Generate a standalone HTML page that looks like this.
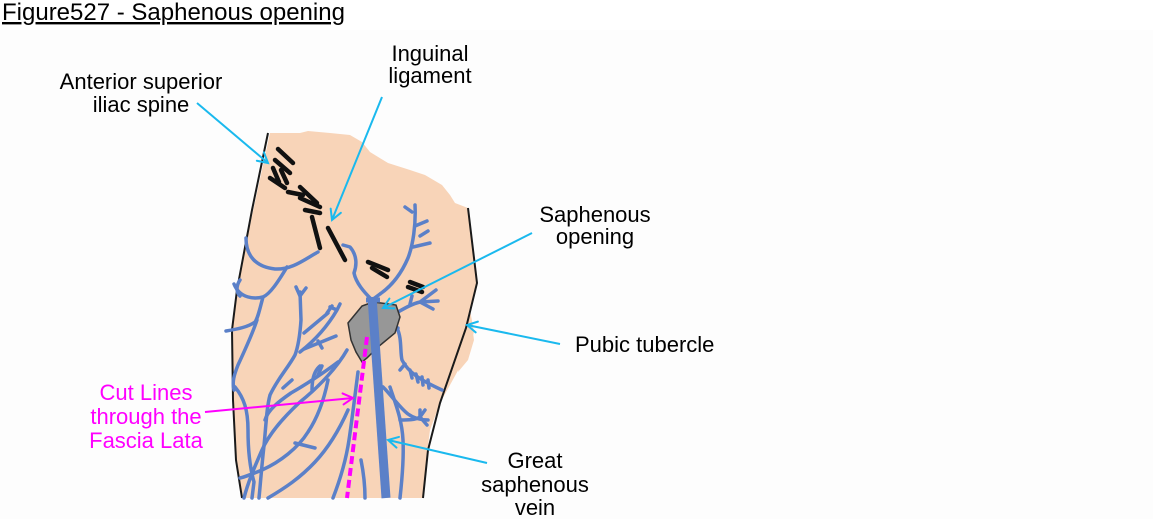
<!DOCTYPE html>
<html>
<head>
<meta charset="utf-8">
<style>
  html,body{margin:0;padding:0;background:#ffffff;}
  body{width:1153px;height:519px;overflow:hidden;}
  svg{display:block;}
  text{font-family:"Liberation Sans", Arial, sans-serif;}
</style>
</head>
<body>
<svg width="1153" height="519" viewBox="0 0 1153 519" xmlns="http://www.w3.org/2000/svg">
  <defs>
    <marker id="ac" markerUnits="userSpaceOnUse" markerWidth="14" markerHeight="14" viewBox="0 0 14 14" refX="12" refY="7" orient="auto">
      <path d="M2,1.5 L12,7 L2,12.5" fill="none" stroke="#1ab9ee" stroke-width="2" stroke-linecap="round"/>
    </marker>
    <marker id="am" markerUnits="userSpaceOnUse" markerWidth="14" markerHeight="14" viewBox="0 0 14 14" refX="12" refY="7" orient="auto">
      <path d="M2,1.5 L12,7 L2,12.5" fill="none" stroke="#ff00ff" stroke-width="2" stroke-linecap="round"/>
    </marker>
  </defs>

  <rect x="0" y="30" width="1153" height="489" fill="#fdfdfd"/>

  <!-- Title -->
  <text x="2" y="20" font-size="24" fill="#000" text-decoration="underline">Figure527 - Saphenous opening</text>

  <!-- Leg skin -->
  <path d="M270,133 L300,133 L308,131 L330,133 L350,135 L362,142 L370,152 L388,163 L410,170 L425,175 L442,185 L450,195 L455,203 L468,208 L477,283 L470,310 L474,332 L466,356 L450,385 L440,403 L430,430 L427,453 L423,498 L242,498 L236,453 L233,400 L233,327 L237,285 Z" fill="#f8d4b8"/>
  <path d="M466,328 L472,326 L474,340 L468,360 L458,372 Z" fill="#f8d4b8"/>

  <!-- Leg outlines -->
  <path d="M268,133 L252,210 L237,290 L232,330 L233,400 L236,460 L242,498" fill="none" stroke="#1a1a1a" stroke-width="2"/>
  <path d="M468,208 L477,283 L466,328 L440,403 L428,450 L423,498" fill="none" stroke="#1a1a1a" stroke-width="2"/>

  <!-- Veins -->
  <g fill="none" stroke="#5b80c8" stroke-width="3.5" stroke-linecap="round" stroke-linejoin="round">
    <path d="M246,238 C246,256 256,267 275,269 C292,270 305,259 318,252"/>
    <path d="M287,267 C278,282 270,294 263,297 C255,299 240,299 234,284"/>
    <path d="M263,297 C260,308 258,318 255,322 C248,327 238,329 226,331"/>
    <path d="M257,320 C252,335 245,350 238,365 C234,375 232,382 234,390"/>
    <path d="M300,292 L301,320 C300,335 298,347 295,355 C288,368 278,378 270,395 C266,410 266,430 263,455 C261,475 260,488 259,498"/>
    <path d="M296,287 L300,296 L306,288"/>
    <path d="M304,333 L328,313 M304,349 L336,336 M327,313 L332,306 M318,341 L322,348"/>
    <path d="M337,310 C330,322 318,338 300,352 M330,307 L337,310 L340,304"/>
    <path d="M347,350 C338,366 320,386 300,402 C285,416 270,432 262,450 C255,466 248,482 244,498"/>
    <path d="M328,380 C324,400 318,417 308,432 C298,448 280,462 262,470 C252,474 245,477 240,478"/>
    <path d="M235,387 C244,398 248,410 248,430 C248,450 250,468 254,482 L252,498"/>
    <path d="M268,498 C285,488 300,478 315,462 C330,446 340,428 348,410"/>
    <path d="M358,372 C355,395 352,420 349,440 C346,460 340,480 333,498"/>
    <path d="M361,460 C364,475 365,488 365,498"/>
    <path d="M295,443 L315,448"/>
    <path d="M338,362 C325,372 305,385 291,393 C278,402 268,410 265,420"/>
    <path d="M318,375 L322,366 M283,388 L292,380"/>
    <path d="M415,205 C416,225 413,245 408,258 C402,272 393,285 380,294 L372,300"/>
    <path d="M413,247 L430,243 M420,236 L428,231 M415,226 L427,221 M412,212 L405,207"/>
    <path d="M343,245 L350,247 C357,255 357,265 354,273 C356,283 364,292 372,300"/>
    <path d="M398,312 C405,308 412,304 420,302 L428,296 M420,302 L436,290 M420,302 L438,301 M420,302 L433,309 M410,304 L412,296"/>
    <path d="M375,327 L398,328"/>
    <path d="M397,328 C402,338 400,352 402,360 C408,372 420,380 442,390"/>
    <path d="M410,370 L412,378 M416,374 L418,382 M422,377 L423,385 M428,380 L429,388 M405,364 L400,370"/>
    <path d="M383,387 C392,396 400,408 408,414 C415,419 422,420 428,420 M420,419 L420,410"/>
    <path d="M390,387 C396,405 402,420 403,440 C404,460 402,480 400,498"/>
    <path d="M400,420 C408,420 415,420 420,417 L425,410 M420,417 L427,425"/>
    <path d="M240,280 C236,286 236,292 240,296"/>
    <path d="M312,390 C312,378 315,370 320,366"/>
  </g>

  <!-- Saphenous opening -->
  <path d="M348,323 L362,306 L373,302 L396,305 L400,317 L395,333 L378,347 L367,358 L362,362 L356,352 L351,340 Z" fill="#979797" stroke="#333" stroke-width="1.5"/>

  <!-- Great saphenous vein -->
  <path d="M372,297 L386,498" stroke="#5b80c8" stroke-width="9" fill="none"/>
  <path d="M366,300 L380,300" stroke="#5b80c8" stroke-width="5" fill="none"/>

  <!-- Ligament marks -->
  <g stroke="#111" stroke-width="4.5" stroke-linecap="round">
    <path d="M278,149 L293,163"/>
    <path d="M275,160 L290,173"/>
    <path d="M273,168 L279,182"/>
    <path d="M270,178 L285,188"/>
    <path d="M281,170 L287,183"/>
    <path d="M288,192 L303,195"/>
    <path d="M300,187 L317,203"/>
    <path d="M300,198 L320,207"/>
    <path d="M305,210 L320,213"/>
    <path d="M312,217 L320,248"/>
    <path d="M328,228 L345,260"/>
    <path d="M368,262 L388,270"/>
    <path d="M372,268 L387,277"/>
    <path d="M410,282 L423,287"/>
    <path d="M408,287 L422,292"/>
  </g>

  <!-- Magenta cut line -->
  <path d="M367,337 L347,498" stroke="#ff00ff" stroke-width="4" stroke-dasharray="8 4" fill="none"/>

  <!-- Cyan arrows -->
  <g stroke="#1ab9ee" stroke-width="2" fill="none">
    <line x1="197" y1="103" x2="268" y2="163" marker-end="url(#ac)"/>
    <line x1="382" y1="97" x2="332" y2="220" marker-end="url(#ac)"/>
    <line x1="532" y1="233" x2="383" y2="308" marker-end="url(#ac)"/>
    <line x1="560" y1="344" x2="467" y2="325" marker-end="url(#ac)"/>
    <line x1="487" y1="463" x2="388" y2="440" marker-end="url(#ac)"/>
  </g>

  <!-- Magenta arrow -->
  <line x1="205" y1="412" x2="353" y2="398" stroke="#ff00ff" stroke-width="2" marker-end="url(#am)"/>

  <!-- Labels -->
  <g font-size="22" fill="#000" text-anchor="middle">
    <text x="141" y="89">Anterior superior</text>
    <text x="141" y="112">iliac spine</text>
    <text x="430" y="61">Inguinal</text>
    <text x="430" y="83">ligament</text>
    <text x="595" y="222">Saphenous</text>
    <text x="595" y="244">opening</text>
    <text x="535" y="468">Great</text>
    <text x="535" y="492">saphenous</text>
    <text x="535" y="515">vein</text>
  </g>
  <text x="575" y="352" font-size="22" fill="#000">Pubic tubercle</text>
  <g font-size="22" fill="#ff00ff" text-anchor="middle">
    <text x="146" y="400">Cut Lines</text>
    <text x="146" y="424">through the</text>
    <text x="146" y="448">Fascia Lata</text>
  </g>
</svg>
</body>
</html>
